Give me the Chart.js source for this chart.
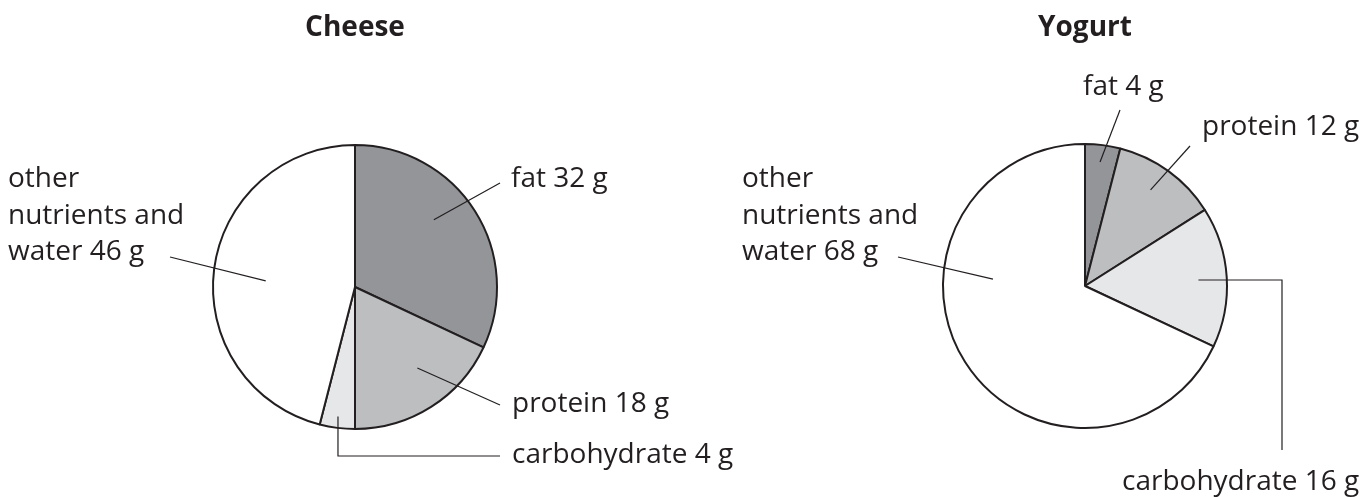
<!DOCTYPE html>
<html>
<head>
<meta charset="utf-8">
<script src="https://cdn.jsdelivr.net/npm/chart.js@4/dist/chart.umd.min.js"></script>
<style>
  html, body { margin: 0; padding: 0; background: #fff; }
  #wrap { position: relative; width: 1368px; height: 497px; }
  #wrap canvas { position: absolute; left: 0; top: 0; }
</style>
</head>
<body>
<div id="wrap">
  <canvas id="cheeseChart" width="1368" height="497"></canvas>
  <canvas id="yogurtChart" width="1368" height="497"></canvas>
</div>
<script>
// data (grams per 100 g)
const categories = ['fat', 'protein', 'carbohydrate', 'other nutrients and water'];
const labelLines = [['fat'], ['protein'], ['carbohydrate'], ['other', 'nutrients and', 'water']];
const cheeseGrams = [32, 18, 4, 46];
const yogurtGrams = [4, 12, 16, 68];
const sliceColors = ['#939598', '#bcbec0', '#e6e7e8', '#ffffff'];

const ink = '#231f20';
const labelFont = '28px "Open Sans", sans-serif';

// where each leader line starts inside its slice (t = share of the slice angle, r = share of radius)
// and where it goes / where the text sits, relative to the pie centre
const cheeseLabels = [
  { t: 0.43, r: 0.73, path: [[145, -104]], text: [156, -100] },
  { t: 0.42, r: 0.72, path: [[145, 118]], text: [157, 125] },
  { t: 0.52, r: 0.92, path: [[null, 169], [145, 169]], text: [157, 176] },
  { t: 0.48, r: 0.63, path: [[-185, -30]], text: [-347, -100] }
];
const yogurtLabels = [
  { t: 0.48, r: 0.88, path: [[35, -176]], text: [-2, -191] },
  { t: 0.46, r: 0.82, path: [[105, -140]], text: [117, -151] },
  { t: 0.51, r: 0.80, path: [[197, null], [197, 164]], text: [37, 204] },
  { t: 0.65, r: 0.65, path: [[-187, -29]], text: [-343, -99] }
];

const leaderLabels = {
  id: 'leaderLabels',
  afterDatasetsDraw(chart, args, opts) {
    const ctx = chart.ctx;
    const meta = chart.getDatasetMeta(0);
    const values = chart.data.datasets[0].data;
    ctx.save();
    meta.data.forEach((arc, i) => {
      const cfg = opts.layout[i];
      const p = arc.getProps(['x', 'y', 'startAngle', 'endAngle', 'outerRadius'], true);
      const a = p.startAngle + (p.endAngle - p.startAngle) * cfg.t;
      let px = p.x + Math.cos(a) * p.outerRadius * cfg.r;
      let py = p.y + Math.sin(a) * p.outerRadius * cfg.r;
      ctx.beginPath();
      ctx.moveTo(px, py);
      cfg.path.forEach(pt => {
        px = pt[0] === null ? px : p.x + pt[0];
        py = pt[1] === null ? py : p.y + pt[1];
        ctx.lineTo(px, py);
      });
      ctx.strokeStyle = ink;
      ctx.lineWidth = 1.2;
      ctx.stroke();

      const lines = labelLines[i].slice();
      lines[lines.length - 1] += ' ' + values[i] + ' g';
      ctx.fillStyle = ink;
      ctx.font = labelFont;
      ctx.textAlign = 'left';
      ctx.textBaseline = 'alphabetic';
      lines.forEach((ln, k) => {
        ctx.fillText(ln, p.x + cfg.text[0], p.y + cfg.text[1] + k * 36.5);
      });
    });
    ctx.restore();
  }
};

function makePie(canvasId, title, values, labelLayout, pad) {
  return new Chart(document.getElementById(canvasId), {
    type: 'pie',
    data: {
      labels: categories,
      datasets: [{
        data: values,
        backgroundColor: sliceColors,
        borderColor: ink,
        borderWidth: 2
      }]
    },
    options: {
      responsive: false,
      animation: false,
      events: [],
      radius: 142,
      layout: { padding: pad },
      plugins: {
        legend: { display: false },
        tooltip: { enabled: false },
        title: {
          display: true,
          text: title,
          color: ink,
          font: { family: '"Open Sans", sans-serif', size: 28, weight: 'bold', lineHeight: 1.2 },
          padding: { top: 11, bottom: pad.titleGap }
        },
        leaderLabels: { layout: labelLayout }
      }
    },
    plugins: [leaderLabels]
  });
}

makePie('cheeseChart', 'Cheese', cheeseGrams, cheeseLabels,
  { left: 205, right: 863, top: 0, bottom: 60, titleGap: 92.4 });
makePie('yogurtChart', 'Yogurt', yogurtGrams, yogurtLabels,
  { left: 935, right: 133, top: 0, bottom: 61, titleGap: 91.4 });
</script>
</body>
</html>
